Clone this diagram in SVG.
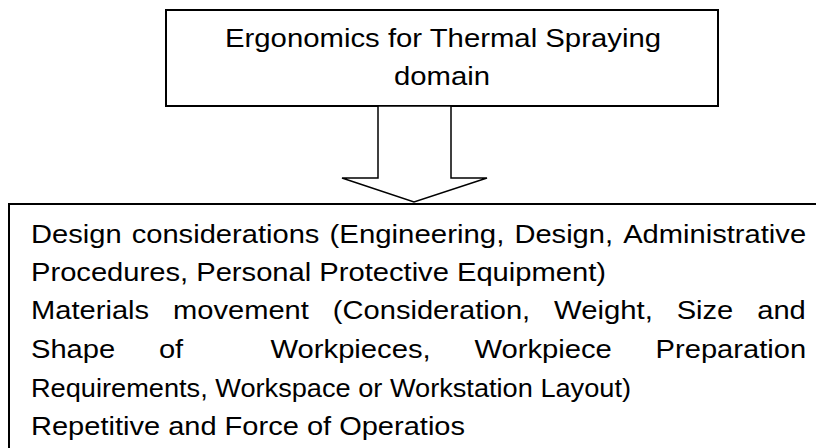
<svg xmlns="http://www.w3.org/2000/svg" width="816" height="448" viewBox="0 0 816 448">
<style>
.box{fill:#fff;stroke:#000;stroke-width:2}
.arrow{fill:#fff;stroke:#000;stroke-width:1.5;stroke-linejoin:miter}
.t{font-family:"Liberation Sans",Arial,sans-serif;font-size:26px;fill:#000}
</style>
<rect width="816" height="448" fill="#fff"/>
<g id="top-node">
<rect class="box" x="166" y="10" width="552" height="96"/>
<text class="t" x="443" y="47" text-anchor="middle" textLength="436" lengthAdjust="spacingAndGlyphs">Ergonomics for Thermal Spraying</text>
<text class="t" x="442" y="85" text-anchor="middle" textLength="96" lengthAdjust="spacingAndGlyphs">domain</text>
</g>
<g id="connectors">
<polygon class="arrow" points="378,106 451,106 451,178 487,178 414,202 342,178 378,178"/>
</g>
<g id="bottom-node">
<rect class="box" x="9" y="204" width="830" height="260"/>
<text class="t" y="243"><tspan x="31" textLength="90.6" lengthAdjust="spacingAndGlyphs">Design</tspan> <tspan x="131.7" textLength="187.7" lengthAdjust="spacingAndGlyphs">considerations</tspan> <tspan x="329.5" textLength="174.8" lengthAdjust="spacingAndGlyphs">(Engineering,</tspan> <tspan x="514.4" textLength="98.7" lengthAdjust="spacingAndGlyphs">Design,</tspan> <tspan x="623.2" textLength="182.9" lengthAdjust="spacingAndGlyphs">Administrative</tspan></text>
<text class="t" x="31" y="281" textLength="575" lengthAdjust="spacingAndGlyphs">Procedures, Personal Protective Equipment)</text>
<text class="t" y="319"><tspan x="31" textLength="118.1" lengthAdjust="spacingAndGlyphs">Materials</tspan> <tspan x="173" textLength="135.9" lengthAdjust="spacingAndGlyphs">movement</tspan> <tspan x="332.8" textLength="197.4" lengthAdjust="spacingAndGlyphs">(Consideration,</tspan> <tspan x="554.1" textLength="98.7" lengthAdjust="spacingAndGlyphs">Weight,</tspan> <tspan x="676.7" textLength="56.6" lengthAdjust="spacingAndGlyphs">Size</tspan> <tspan x="757.2" textLength="48.6" lengthAdjust="spacingAndGlyphs">and</tspan></text>
<text class="t" y="358"><tspan x="31" textLength="84.2" lengthAdjust="spacingAndGlyphs">Shape</tspan> <tspan x="158.9" textLength="24.3" lengthAdjust="spacingAndGlyphs">of</tspan>  <tspan x="270.5" textLength="160.2" lengthAdjust="spacingAndGlyphs">Workpieces,</tspan> <tspan x="474.4" textLength="137.5" lengthAdjust="spacingAndGlyphs">Workpiece</tspan> <tspan x="655.6" textLength="150.5" lengthAdjust="spacingAndGlyphs">Preparation</tspan></text>
<text class="t" x="31" y="397" textLength="600" lengthAdjust="spacingAndGlyphs">Requirements, Workspace or Workstation Layout)</text>
<text class="t" x="31" y="435" textLength="434" lengthAdjust="spacingAndGlyphs">Repetitive and Force of Operatios</text>
</g>
</svg>
